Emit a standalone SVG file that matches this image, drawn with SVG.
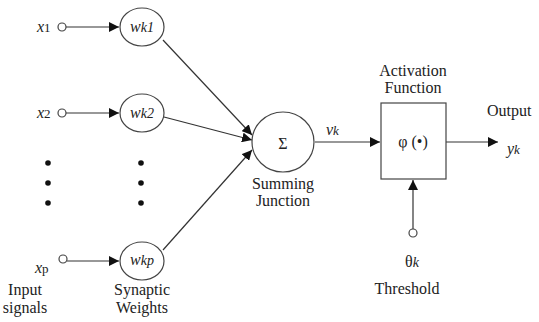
<svg xmlns="http://www.w3.org/2000/svg" width="539" height="322" viewBox="0 0 539 322">
<style>
text{font-family:'Liberation Serif',serif;fill:#222;font-size:16px}
.it{font-style:italic}
.c{text-anchor:middle}
.ln{stroke:#333;stroke-width:1.2;fill:none}
.nd{stroke:#444;stroke-width:1.2;fill:#fff}
.dot{fill:#111}
</style>
<defs>
<marker id="ah" viewBox="0 0 10 10" refX="10" refY="5" markerWidth="10" markerHeight="10" markerUnits="userSpaceOnUse" orient="auto">
<path d="M0,0 L10,5 L0,10 z" fill="#111"/>
</marker>
</defs>
<rect width="539" height="322" fill="#fff"/>
<g id="connectors">
<line class="ln" x1="66" y1="27" x2="119" y2="27" marker-end="url(#ah)"/>
<line class="ln" x1="66" y1="113" x2="119" y2="113" marker-end="url(#ah)"/>
<line class="ln" x1="67" y1="261" x2="119" y2="261" marker-end="url(#ah)"/>
<line class="ln" x1="163" y1="40" x2="252" y2="135" marker-end="url(#ah)"/>
<line class="ln" x1="164" y1="117" x2="252" y2="140" marker-end="url(#ah)"/>
<line class="ln" x1="163" y1="250" x2="252" y2="150" marker-end="url(#ah)"/>
<line class="ln" x1="315" y1="142" x2="380" y2="142" marker-end="url(#ah)"/>
<line class="ln" x1="446" y1="142" x2="498" y2="142" marker-end="url(#ah)"/>
<line class="ln" x1="413" y1="229" x2="413" y2="180" marker-end="url(#ah)"/>
</g>
<g id="x1"><circle class="nd" cx="62" cy="27" r="4"/><text x="37" y="32" class="it">x<tspan font-size="13" font-style="normal">1</tspan></text></g>
<g id="x2"><circle class="nd" cx="62" cy="113" r="4"/><text x="37" y="118" class="it">x<tspan font-size="13" font-style="normal">2</tspan></text></g>
<g id="xp"><circle class="nd" cx="63" cy="259" r="4"/><text x="35" y="273" class="it">x<tspan font-size="13" font-style="normal">p</tspan></text></g>
<g id="dots1"><circle class="dot" cx="48" cy="163" r="2.8"/><circle class="dot" cx="48" cy="183" r="2.8"/><circle class="dot" cx="48" cy="203" r="2.8"/></g>
<g id="dots2"><circle class="dot" cx="141" cy="163" r="2.8"/><circle class="dot" cx="141" cy="183" r="2.8"/><circle class="dot" cx="141" cy="203" r="2.8"/></g>
<g id="wk1"><ellipse class="nd" cx="142" cy="27" rx="22" ry="19"/><text x="142" y="32" class="it c" font-size="17">w<tspan font-size="14">k1</tspan></text></g>
<g id="wk2"><ellipse class="nd" cx="142" cy="113" rx="22" ry="19"/><text x="142" y="118" class="it c" font-size="17">w<tspan font-size="14">k2</tspan></text></g>
<g id="wkp"><ellipse class="nd" cx="142" cy="261" rx="22" ry="19"/><text x="142" y="265" class="it c" font-size="17">w<tspan font-size="14">kp</tspan></text></g>
<g id="sum"><ellipse class="nd" cx="283" cy="142" rx="31" ry="30"/><text x="283" y="149" class="c" font-size="20">Σ</text></g>
<g id="act"><rect class="nd" x="381" y="103" width="65" height="76"/><text x="413" y="147" class="c">φ (•)</text></g>
<g id="theta"><circle class="nd" cx="413" cy="233" r="4"/><text x="412" y="267" class="c" font-size="19">θ<tspan font-size="14" class="it">k</tspan></text></g>
<g id="labels">
<text x="25" y="295" class="c">Input</text>
<text x="25" y="313" class="c">signals</text>
<text x="142" y="295" class="c">Synaptic</text>
<text x="142" y="313" class="c">Weights</text>
<text x="283" y="189" class="c">Summing</text>
<text x="283" y="206" class="c">Junction</text>
<text x="413" y="76" class="c">Activation</text>
<text x="413" y="93" class="c">Function</text>
<text x="487" y="116">Output</text>
<text x="326" y="135" class="it" font-size="17">v<tspan font-size="13">k</tspan></text>
<text x="507" y="154" class="it" font-size="17">y<tspan font-size="13">k</tspan></text>
<text x="407" y="294" class="c">Threshold</text>
</g>
</svg>
